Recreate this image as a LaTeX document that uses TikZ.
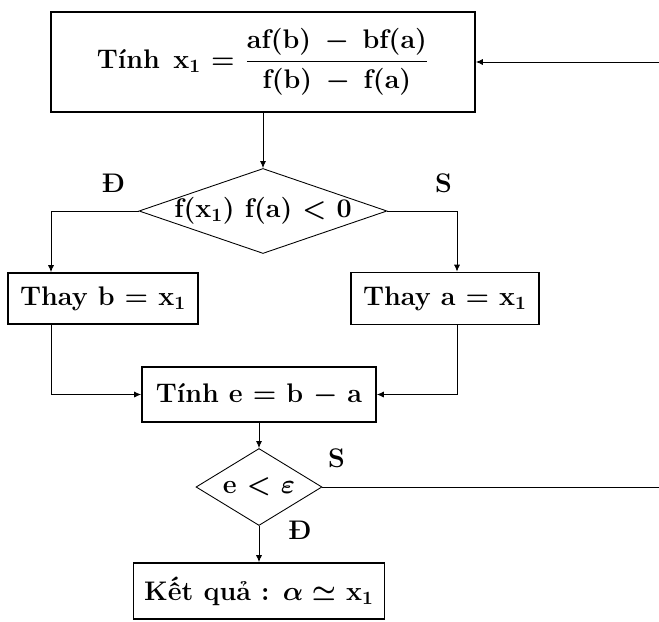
\documentclass[tikz,border=0pt]{standalone}
\usepackage{fix-cm}
\usepackage{amsmath}
\usepackage{xcolor}
\usepackage{tikz}
\usetikzlibrary{positioning, shapes.geometric, arrows.meta}

\begin{document}
\begin{tikzpicture}[node distance=2cm, on grid, >={Latex[length=4pt,width=3.5pt]},
        every node/.style={font=\fontsize{15.3}{18}\selectfont\bfseries\boldmath},
        box/.style={draw, line width=1pt, inner sep=0pt},
        cond/.style={draw, diamond, line width=0.5pt, inner sep=0pt},
        lbl/.style={inner sep=0pt, anchor=center}]
        \useasboundingbox (0,0) rectangle (13.18,-12.44);

        \node[box, minimum width=8.48cm, minimum height=2cm] (tinhx) at (5.26,-1.24)
            {Tính\enspace x$_1$ = $\dfrac{\text{af(b)}\:-\:\text{bf(a)}}{\text{f(b)}\:-\:\text{f(a)}}$};
        \node[cond, minimum width=4.96cm, minimum height=1.70cm] (dec1) [below=2.98cm of tinhx] {\makebox[0pt]{f(x$_1$) f(a) < 0}};
        \node[box, minimum width=3.80cm, minimum height=1.02cm] (thayb) [below left=1.75cm and 3.2cm of dec1] {Thay b = x$_1$};
        \node[box, minimum width=3.76cm, minimum height=1.04cm] (thaya) [below right=1.75cm and 3.64cm of dec1] {Thay a = x$_1$};
        \node[box, minimum width=4.68cm, minimum height=1.10cm] (tinhe) [below=3.67cm of dec1, xshift=-0.08cm] {Tính e = b $-$ a};
        \node[cond, minimum width=2.52cm, minimum height=1.54cm] (dec2) [below=1.85cm of tinhe] {\makebox[0pt]{e $<$ $\varepsilon$}};
        \node[box, minimum width=5.02cm, minimum height=1.12cm] (kq) [below=2.08cm of dec2] {Kết quả : $\alpha \simeq$ x$_1$};

        % nhan Dung / Sai
        \node[lbl] (d1) at ([xshift=-0.5cm, yshift=0.56cm]dec1.west) {Đ};
        \node[lbl] (s1) at ([xshift=1.12cm, yshift=0.56cm]dec1.east) {S};
        \node[lbl] (s2) at ([xshift=0.28cm, yshift=0.58cm]dec2.east) {S};
        \node[lbl] (d2) at ([xshift=0.82cm, yshift=-0.08cm]dec2.south) {Đ};

        % vong lap ben phai
        \coordinate (edge) at (13.18,0);
        \coordinate (rb) at (edge |- dec2.east);
        \coordinate (rt) at (edge |- tinhx.east);

        \draw[->, line width=0.5pt] (dec1.north |- tinhx.south) -- (dec1.north);
        \draw[->, line width=0.5pt] (dec1.west) -| ([xshift=-1.04cm]thayb.north);
        \draw[->, line width=0.5pt] (dec1.east) -| ([xshift=0.24cm]thaya.north);
        \draw[->, line width=0.5pt] ([xshift=-1.04cm]thayb.south) |- (tinhe.west);
        \draw[->, line width=0.5pt] ([xshift=0.24cm]thaya.south) |- (tinhe.east);
        \draw[->, line width=0.5pt] (tinhe.south) -- (dec2.north);
        \draw[->, line width=0.5pt] (dec2.south) -- (kq.north);
        \draw[line width=0.5pt] (dec2.east) -- (rb);
        \draw[->, line width=0.5pt] (rt) -- (tinhx.east);
\end{tikzpicture}
\end{document}
